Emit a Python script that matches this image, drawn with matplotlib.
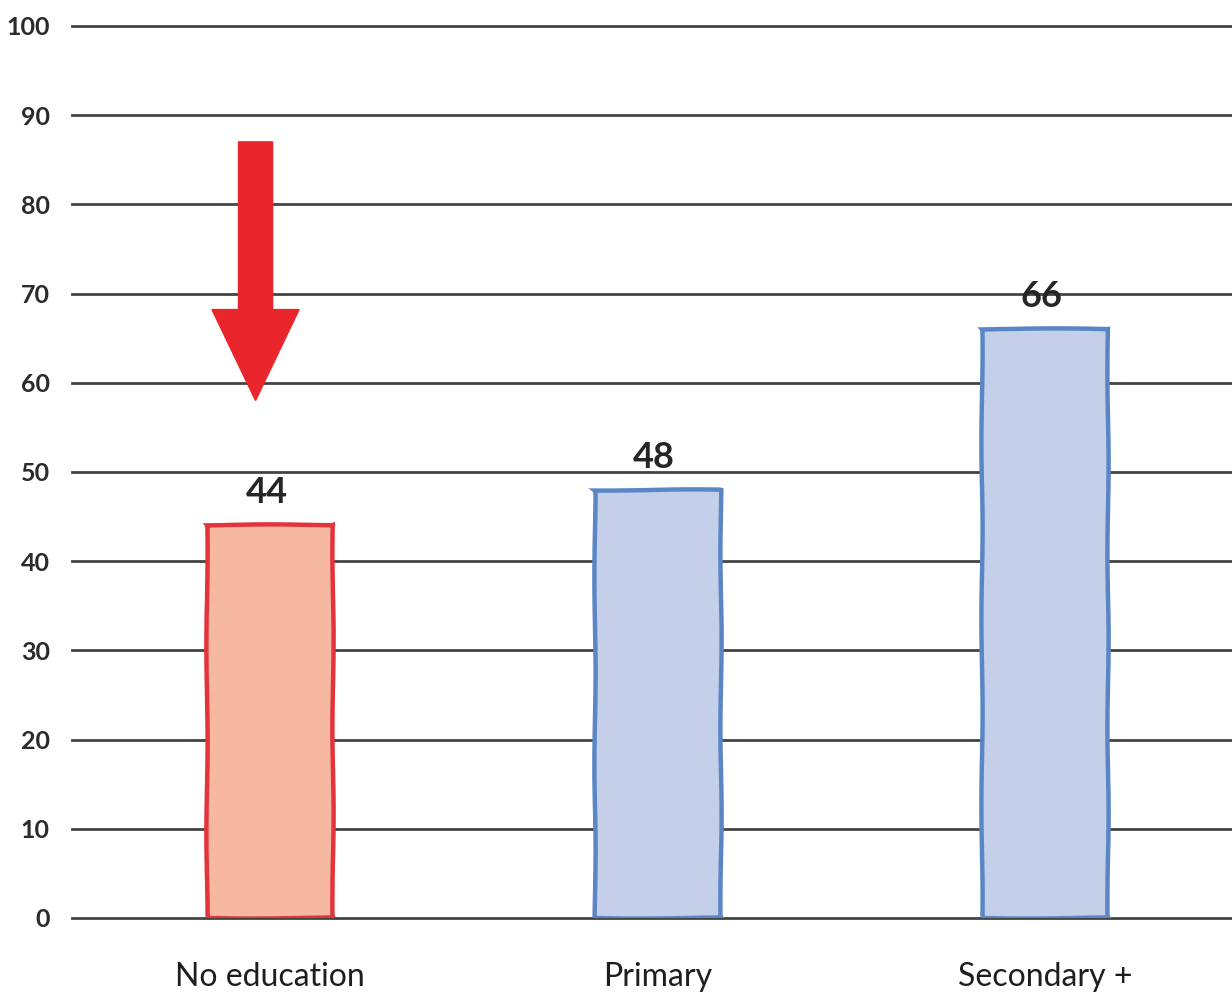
import matplotlib
matplotlib.use("Agg")
import matplotlib.pyplot as plt
from matplotlib.patches import FancyArrow

categories = ["No education", "Primary", "Secondary +"]
values = [44, 48, 66]
yticks = [0, 10, 20, 30, 40, 50, 60, 70, 80, 90, 100]
arrow_top, arrow_tip = 87, 58

fills = ["#f7b8a2", "#c4cfe9", "#c4cfe9"]
edges = ["#e2343a", "#5b86c6", "#5b86c6"]

plt.rcParams['font.family'] = ['Lato', 'DejaVu Sans']

fig = plt.figure(figsize=(12.32, 9.99), dpi=100)
ax = fig.add_axes([0.0584, 0.0811, 0.9416, 0.893])
x = list(range(len(categories)))

for yt in yticks:
    ax.axhline(yt, color="#444444", lw=2.0, zorder=1, clip_on=False)

bars = ax.bar(x, values, width=0.325, color=fills, edgecolor=edges, linewidth=3.2, zorder=3)
for b in bars:
    b.set_sketch_params(scale=0.6, length=200, randomness=2)

for xi, v in zip(x, values):
    ax.text(xi - 0.01, v + 1.8, str(v), ha="center", va="bottom", fontsize=26,
            fontweight="bold", color="#262626", zorder=4)

arrow = FancyArrow(-0.038, arrow_top, 0, -(arrow_top - arrow_tip), width=0.088,
                   head_width=0.225, head_length=10.2, length_includes_head=True,
                   color="#e8262b", zorder=5)
ax.add_patch(arrow)

ax.set_xlim(-0.512, 2.483)
ax.set_ylim(0, 100)
ax.set_yticks(yticks)
ax.set_yticklabels([str(t) for t in yticks], fontsize=18, fontweight="bold", color="#2b2b2b")
ax.set_xticks(x)
ax.set_xticklabels(categories, fontsize=23, color="#1e1e1e")
ax.tick_params(axis="y", length=0, pad=16)
ax.tick_params(axis="x", length=0, pad=32)
for s in ax.spines.values():
    s.set_visible(False)

fig.savefig("out.png", dpi=100)
